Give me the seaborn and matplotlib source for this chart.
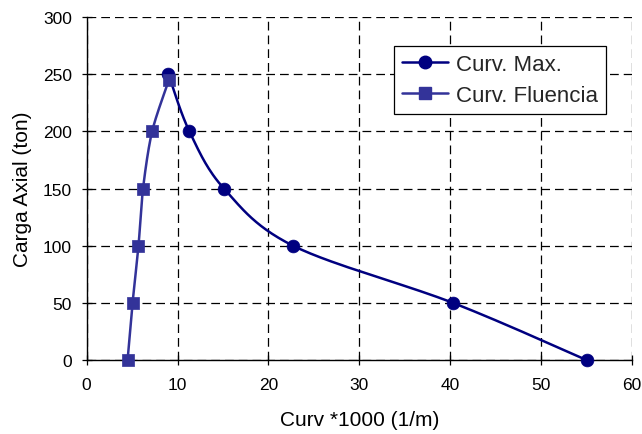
import numpy as np
import pandas as pd
import matplotlib
matplotlib.use("Agg")
import matplotlib.pyplot as plt
from matplotlib.lines import Line2D
import seaborn as sns

# Axial load vs curvature: maximum and yield curvature curves
curv_max = [55.0, 40.3, 22.7, 15.1, 11.3, 9.0]
carga_max = [0, 50, 100, 150, 200, 250]
curv_fluencia = [4.5, 5.05, 5.7, 6.2, 7.2, 9.05]
carga_fluencia = [0, 50, 100, 150, 200, 245]
x_ticks = [0, 10, 20, 30, 40, 50, 60]
y_ticks = [0, 50, 100, 150, 200, 250, 300]

COLOR_MAX = "#000080"
COLOR_FLU = "#333399"


def smooth(xs, ys, xscale, yscale, n=30, k=6.0):
    """Bezier-smoothed path through the points (spreadsheet-style smoothed line)."""
    p = np.column_stack([np.asarray(xs, float) / xscale, np.asarray(ys, float) / yscale])
    ext = np.vstack([p[0], p, p[-1]])
    out = []
    for i in range(1, len(ext) - 2):
        p0, p1, p2, p3 = ext[i - 1], ext[i], ext[i + 1], ext[i + 2]
        c1 = p1 + (p2 - p0) / k
        c2 = p2 - (p3 - p1) / k
        t = np.linspace(0, 1, n)[:, None]
        seg = ((1 - t) ** 3) * p1 + 3 * ((1 - t) ** 2) * t * c1 + 3 * (1 - t) * t ** 2 * c2 + t ** 3 * p2
        out.append(seg if i == 1 else seg[1:])
    out = np.vstack(out)
    return out[:, 0] * xscale, out[:, 1] * yscale


sns.set_theme(style="white")
plt.rcParams["font.family"] = ["Liberation Sans", "DejaVu Sans"]

fig = plt.figure(figsize=(6.42, 4.35), dpi=100)
ax = fig.add_axes([0.135, 0.17, 0.8495, 0.7886])

sx, sy = smooth(curv_max, carga_max, 60 / 545, 300 / 343)
sns.lineplot(x=sx, y=sy, sort=False, color=COLOR_MAX, lw=1.8, ax=ax, estimator=None)
fx, fy = smooth(curv_fluencia, carga_fluencia, 60 / 545, 300 / 343, k=7.0)
sns.lineplot(x=fx, y=fy, sort=False, color=COLOR_FLU, lw=1.8, ax=ax, estimator=None)

sns.scatterplot(x=curv_max, y=carga_max, marker="o", s=85, color=COLOR_MAX, edgecolor=COLOR_MAX,
                linewidth=0.5, ax=ax, zorder=4, clip_on=False)
sns.scatterplot(x=curv_fluencia, y=carga_fluencia, marker="s", s=75, color=COLOR_FLU, edgecolor=COLOR_FLU,
                linewidth=0.5, ax=ax, zorder=5, clip_on=False)

ax.set_xlim(0, 60)
ax.set_ylim(0, 300)
ax.set_xticks(x_ticks)
ax.set_yticks(y_ticks)
ax.grid(True, color="black", linestyle=(0, (7, 4)), linewidth=0.9)
ax.set_axisbelow(True)
for side in ["top", "right"]:
    ax.spines[side].set_visible(False)
for side in ["left", "bottom"]:
    ax.spines[side].set_color("black")
    ax.spines[side].set_linewidth(1.0)
ax.tick_params(axis="both", direction="inout", length=7, width=0.9, color="black",
               labelsize=12.5, colors="black", bottom=True, left=True)
ax.tick_params(axis="x", pad=9)
ax.tick_params(axis="y", pad=7)
ax.set_xlabel("Curv *1000 (1/m)", fontsize=15, color="black", labelpad=13)
ax.set_ylabel("Carga Axial (ton)", fontsize=15, color="black", labelpad=8)

handles = [
    Line2D([], [], color=COLOR_MAX, lw=1.8, marker="o", markersize=9),
    Line2D([], [], color=COLOR_FLU, lw=1.8, marker="s", markersize=8.5),
]
leg = ax.legend(handles, ["Curv. Max.", "Curv. Fluencia"], loc="upper right",
                bbox_to_anchor=(0.952, 0.915), fontsize=16, frameon=True, fancybox=False,
                edgecolor="black", framealpha=1, handlelength=2.1, handletextpad=0.35,
                labelspacing=0.45, borderpad=0.35, borderaxespad=0)
leg.get_frame().set_linewidth(0.9)

fig.savefig("out.png", dpi=100)
